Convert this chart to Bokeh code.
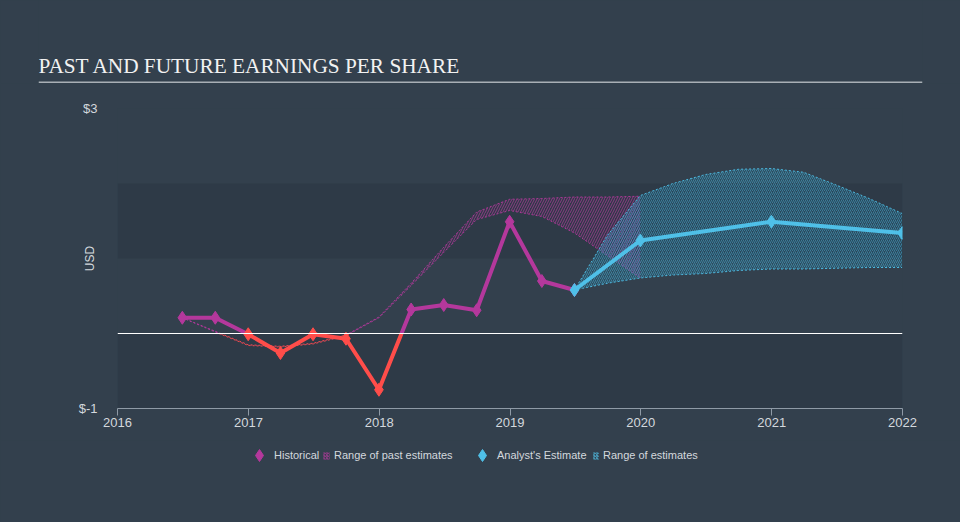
import pandas as pd
from bokeh.plotting import figure
from bokeh.layouts import column
from bokeh.models import (Range1d, FixedTicker, DatetimeTickFormatter, PrintfTickFormatter,
                          Span, BoxAnnotation, Label, Legend, LegendItem, ColumnDataSource)
from bokeh.embed import file_html
from bokeh.resources import INLINE

# ---------------- data ----------------
hist_dates = ["2016-06-30", "2016-09-30", "2016-12-31", "2017-03-31", "2017-06-30",
              "2017-09-30", "2017-12-31", "2018-03-31", "2018-06-30", "2018-09-30",
              "2018-12-31", "2019-03-31", "2019-06-30"]
hist_eps = [0.21, 0.21, -0.01, -0.26, -0.01, -0.07, -0.75, 0.32, 0.38, 0.31, 1.49, 0.70, 0.58]

past_dates = hist_dates + ["2019-09-30", "2019-12-31"]
past_low = [0.21, 0.02, -0.16, -0.18, -0.14, -0.03, 0.21, 0.64, 1.08, 1.52, 1.64, 1.56, 1.34, 1.04, 0.74]
past_high = [0.21, 0.03, -0.15, -0.17, -0.13, -0.02, 0.22, 0.67, 1.15, 1.62, 1.79, 1.80, 1.82, 1.82, 1.83]

est_dates = ["2019-06-30", "2019-12-31", "2020-12-31", "2021-12-31"]
est_eps = [0.58, 1.24, 1.49, 1.34]

range_dates = ["2019-06-30", "2019-09-30", "2019-12-31", "2020-03-31", "2020-06-30", "2020-09-30",
               "2020-12-31", "2021-03-31", "2021-06-30", "2021-09-30", "2021-12-31"]
range_low = [0.58, 0.67, 0.74, 0.78, 0.80, 0.84, 0.86, 0.86, 0.87, 0.88, 0.88]
range_high = [0.58, 1.31, 1.84, 2.00, 2.12, 2.19, 2.20, 2.15, 1.98, 1.80, 1.60]

year_ticks = ["2016-01-01", "2017-01-01", "2018-01-01", "2019-01-01",
              "2020-01-01", "2021-01-01", "2022-01-01"]
y_ticks = [-1, 3]

title_text = "PAST AND FUTURE EARNINGS PER SHARE"
legend_labels = ["Historical", "Range of past estimates", "Analyst's Estimate", "Range of estimates"]

# ---------------- styles ----------------
BG = "#33404d"
BAND = "#2e3a47"
MAGENTA = "#b4389c"
RED = "#ff4d4a"
CYAN = "#4fc0e8"
TXT = "#d3d8dd"
AXIS = "#8f9aa6"
FONT = "Liberation Sans"
OFF = -10.0   # legend proxies sit outside the footer's 0..1 ranges


def to_dt(lst):
    return list(pd.to_datetime(lst))


def split_by_sign(dates, vals, pos_color, neg_color):
    """Split a polyline into segments, cut where it crosses zero, coloured by sign."""
    t = [d.value / 1e6 for d in pd.to_datetime(dates)]
    xs, ys, cs = [], [], []
    cur_x, cur_y = [t[0]], [vals[0]]
    cur_neg = vals[0] < 0
    for i in range(1, len(t)):
        v0, v1 = vals[i - 1], vals[i]
        neg1 = v1 < 0
        if neg1 != cur_neg and v0 != v1:
            f = v0 / (v0 - v1)
            tc = t[i - 1] + f * (t[i] - t[i - 1])
            cur_x.append(tc); cur_y.append(0.0)
            xs.append(cur_x); ys.append(cur_y); cs.append(neg_color if cur_neg else pos_color)
            cur_x, cur_y = [tc], [0.0]
            cur_neg = neg1
        cur_x.append(t[i]); cur_y.append(v1)
    xs.append(cur_x); ys.append(cur_y); cs.append(neg_color if cur_neg else pos_color)
    return ColumnDataSource(dict(xs=xs, ys=ys, color=cs))


def plain(fig):
    fig.background_fill_color = BG
    fig.border_fill_color = BG
    fig.outline_line_color = None
    fig.grid.visible = False


BGSTYLE = {"background-color": BG}

# ---------------- header: title + rule ----------------
header = figure(width=960, height=83, x_range=Range1d(0, 1), y_range=Range1d(0, 1),
                x_axis_location=None, y_axis_location=None, title=None,
                output_backend="svg", toolbar_location=None, frame_align=False, styles=BGSTYLE,
                min_border_left=38, min_border_right=38, min_border_top=0, min_border_bottom=0)
plain(header)
header.add_layout(Label(x=0, y=18, x_units="screen", y_units="screen", text=title_text,
                        text_font="Liberation Serif", text_font_size="21.3px", text_color="#f2f2f2",
                        text_baseline="middle"))
header.add_layout(BoxAnnotation(bottom=0, top=2, bottom_units="screen", top_units="screen",
                                fill_color="#a9afb6", fill_alpha=1, line_color=None))

# ---------------- main chart ----------------
x_start = pd.Timestamp(year_ticks[0]).value / 1e6
x_end = pd.Timestamp(year_ticks[-1]).value / 1e6

p = figure(width=960, height=357, x_axis_type="datetime", title=None,
           x_range=Range1d(x_start, x_end), y_range=Range1d(-1, 3),
           output_backend="svg", toolbar_location=None, frame_align=False, styles=BGSTYLE,
           min_border_left=117, min_border_right=58, min_border_top=25, min_border_bottom=32)
plain(p)

p.add_layout(BoxAnnotation(bottom=-1, top=0, fill_color=BAND, fill_alpha=1, line_color=None, level="underlay"))
p.add_layout(BoxAnnotation(bottom=1, top=2, fill_color=BAND, fill_alpha=1, line_color=None, level="underlay"))
p.add_layout(Span(location=0, dimension="width", line_color="white", line_width=1.2))

# past estimates range
past_src = ColumnDataSource(dict(x=to_dt(past_dates), lo=past_low, hi=past_high))
p.varea(x="x", y1="lo", y2="hi", source=past_src, fill_alpha=0,
        hatch_pattern="/", hatch_color=MAGENTA, hatch_alpha=0.7, hatch_scale=5, hatch_weight=1)
for arr in (past_low, past_high):
    p.multi_line(xs="xs", ys="ys", line_color="color", source=split_by_sign(past_dates, arr, MAGENTA, RED),
                 line_width=1, line_dash="2 2", line_alpha=0.9)

# analyst range
rng_src = ColumnDataSource(dict(x=to_dt(range_dates), lo=range_low, hi=range_high))
p.varea(x="x", y1="lo", y2="hi", source=rng_src, fill_color="#1f6f92", fill_alpha=0.25,
        hatch_pattern="/", hatch_color=CYAN, hatch_alpha=0.45, hatch_scale=4, hatch_weight=1)
p.line(x="x", y="hi", source=rng_src, line_color=CYAN, line_width=1, line_dash="2 2", line_alpha=0.9)
p.line(x="x", y="lo", source=rng_src, line_color=CYAN, line_width=1, line_dash="2 2", line_alpha=0.9)

# historical
p.multi_line(xs="xs", ys="ys", line_color="color",
             source=split_by_sign(hist_dates, hist_eps, MAGENTA, RED), line_width=4)
hist_src = ColumnDataSource(dict(x=to_dt(hist_dates), y=hist_eps,
                                 c=[RED if v < 0 else MAGENTA for v in hist_eps]))
p.scatter(x="x", y="y", source=hist_src, marker="diamond", size=13, fill_color="c", line_color="c")

# analyst estimate
est_src = ColumnDataSource(dict(x=to_dt(est_dates), y=est_eps))
p.line(x="x", y="y", source=est_src, line_color=CYAN, line_width=4)
p.scatter(x="x", y="y", source=est_src, marker="diamond", size=13, fill_color=CYAN, line_color=CYAN)

# axes
xa = p.xaxis[0]
xa.ticker = FixedTicker(ticks=[pd.Timestamp(d).value / 1e6 for d in year_ticks])
xa.formatter = DatetimeTickFormatter(years="%Y", months="%Y", days="%Y", hours="%Y",
                                     minutes="%Y", seconds="%Y", milliseconds="%Y")
xa.axis_line_color = AXIS
xa.major_tick_line_color = AXIS
xa.major_tick_out = 7
xa.major_tick_in = 0
xa.minor_tick_line_color = None
xa.major_label_standoff = 2
xa.major_label_text_color = TXT
xa.major_label_text_font = FONT
xa.major_label_text_font_size = "13px"

ya = p.yaxis[0]
ya.ticker = FixedTicker(ticks=y_ticks)
ya.formatter = PrintfTickFormatter(format="$%d")
ya.axis_line_color = None
ya.major_tick_line_color = None
ya.minor_tick_line_color = None
ya.major_label_standoff = 14
ya.major_label_text_color = TXT
ya.major_label_text_font = FONT
ya.major_label_text_font_size = "13px"
ya.axis_label = "USD"
ya.axis_label_text_font = FONT
ya.axis_label_text_font_size = "12px"
ya.axis_label_text_font_style = "normal"
ya.axis_label_text_color = TXT
ya.axis_label_standoff = -21

# ---------------- footer: legend ----------------
footer = figure(width=960, height=82, x_range=Range1d(0, 1), y_range=Range1d(0, 1),
                x_axis_location=None, y_axis_location=None, title=None,
                output_backend="svg", toolbar_location=None, frame_align=False, styles=BGSTYLE,
                min_border_left=0, min_border_right=0, min_border_top=0, min_border_bottom=0)
plain(footer)
# style proxies for legend icons (outside the visible range)
lg_hist_m = footer.scatter(x=[OFF], y=[OFF], marker="diamond", size=12, fill_color=MAGENTA, line_color=MAGENTA)
lg_past = footer.varea(x=[OFF, OFF - 1], y1=[OFF, OFF], y2=[OFF, OFF], fill_alpha=0, hatch_pattern="/",
                       hatch_color=MAGENTA, hatch_alpha=0.9, hatch_scale=3, hatch_weight=1)
lg_est_m = footer.scatter(x=[OFF], y=[OFF], marker="diamond", size=12, fill_color=CYAN, line_color=CYAN)
lg_rng = footer.varea(x=[OFF, OFF - 1], y1=[OFF, OFF], y2=[OFF, OFF], fill_alpha=0, hatch_pattern="/",
                      hatch_color=CYAN, hatch_alpha=0.9, hatch_scale=3, hatch_weight=1)


def mk_legend(fig, label, rends, loc, gw, gh, standoff):
    lg = Legend(items=[LegendItem(label=label, renderers=rends)], location=loc,
                orientation="horizontal", background_fill_alpha=0, border_line_alpha=0,
                padding=0, margin=0, spacing=0, label_standoff=standoff,
                glyph_width=gw, glyph_height=gh,
                label_text_font=FONT, label_text_font_size="11px", label_text_color=TXT)
    fig.add_layout(lg, "center")


# marker icons need a 30px box so that Bokeh draws the diamond at a visible size
mk_legend(footer, legend_labels[0], [lg_hist_m], (244, 52), 30, 30, -5)
mk_legend(footer, legend_labels[1], [lg_past], (322, 61), 8, 9, 4)
mk_legend(footer, legend_labels[2], [lg_est_m], (467, 52), 30, 30, -6)
mk_legend(footer, legend_labels[3], [lg_rng], (592, 61), 7, 9, 4)

layout = column(header, p, footer, spacing=0, styles=BGSTYLE)
open("out.html", "w").write(file_html(layout, INLINE))
